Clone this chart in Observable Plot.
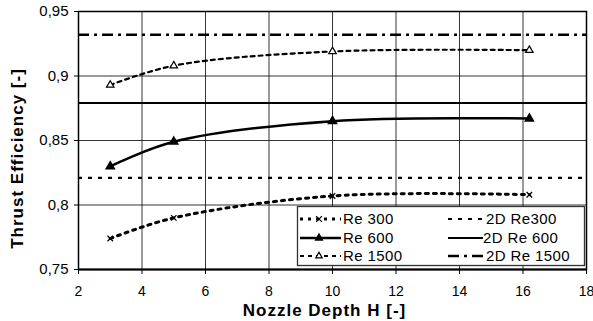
<!DOCTYPE html>
<html><head><meta charset="utf-8">
<script src="https://cdn.jsdelivr.net/npm/d3@7"></script>
<script src="https://cdn.jsdelivr.net/npm/@observablehq/plot@0.6"></script>
<style>
body{margin:0;background:#fff;}
#chart{width:593px;height:321px;}
</style></head>
<body><div id="chart"></div>
<script>
const depths = [3, 5, 10, 16.2];
const re300 = [0.774, 0.790, 0.807, 0.808];
const re600 = [0.830, 0.849, 0.865, 0.867];
const re1500 = [0.893, 0.908, 0.919, 0.920];
const ref2DNames = ["2D Re300", "2D Re 600", "2D Re 1500"];
const ref2DValues = [0.821, 0.879, 0.932];
const seriesNames = ["Re 300", "Re 600", "Re 1500"];
const xTicks = [2, 4, 6, 8, 10, 12, 14, 16, 18];
const yTicks = [0.75, 0.8, 0.85, 0.9, 0.95];
const xTitle = "Nozzle Depth H [-]";
const yTitle = "Thrust Efficiency [-]";

const mk = vals => depths.map((d, i) => ({x: d, y: vals[i]}));
const d300 = mk(re300), d600 = mk(re600), d1500 = mk(re1500);
const refs = ref2DNames.map((n, i) => ({name: n, value: ref2DValues[i]}));

const styles = {
  "Re 300": {dash: "3,5", w: 3},
  "Re 600": {dash: null, w: 2.5},
  "Re 1500": {dash: "4,4", w: 2.2},
  "2D Re300": {dash: "4,6", w: 2.2},
  "2D Re 600": {dash: null, w: 2},
  "2D Re 1500": {dash: "11,5,3,5", w: 2.5}
};

const fmt = d => String(d).replace(".", ",");

const chart = Plot.plot({
  width: 593, height: 321,
  marginLeft: 78, marginRight: 7, marginTop: 11, marginBottom: 52,
  style: {fontFamily: "Liberation Sans, Arial, sans-serif", fontSize: "15px", color: "black", background: "white"},
  x: {domain: [2, 18], ticks: xTicks},
  y: {domain: [0.75, 0.95], ticks: yTicks},
  marks: [
    Plot.gridX(xTicks, {stroke: "#111", strokeOpacity: 0.85, strokeWidth: 1}),
    Plot.gridY(yTicks, {stroke: "#111", strokeOpacity: 0.85, strokeWidth: 1}),
    Plot.ruleY(refs.filter(r => r.name === "2D Re300"), {y: "value", stroke: "black", strokeWidth: styles["2D Re300"].w, strokeDasharray: styles["2D Re300"].dash}),
    Plot.ruleY(refs.filter(r => r.name === "2D Re 600"), {y: "value", stroke: "black", strokeWidth: styles["2D Re 600"].w}),
    Plot.ruleY(refs.filter(r => r.name === "2D Re 1500"), {y: "value", stroke: "black", strokeWidth: styles["2D Re 1500"].w, strokeDasharray: styles["2D Re 1500"].dash}),
    Plot.line(d300, {x: "x", y: "y", curve: "catmull-rom", stroke: "black", strokeWidth: styles["Re 300"].w, strokeDasharray: styles["Re 300"].dash}),
    Plot.line(d600, {x: "x", y: "y", curve: "catmull-rom", stroke: "black", strokeWidth: styles["Re 600"].w}),
    Plot.line(d1500, {x: "x", y: "y", curve: "catmull-rom", stroke: "black", strokeWidth: styles["Re 1500"].w, strokeDasharray: styles["Re 1500"].dash}),
    Plot.dot(d300, {x: "x", y: "y", symbol: "times", r: 2.6, stroke: "black", strokeWidth: 1.3, fill: "none"}),
    Plot.dot(d600, {x: "x", y: "y", symbol: "triangle", r: 3, fill: "black", stroke: "black"}),
    Plot.dot(d1500, {x: "x", y: "y", symbol: "triangle", r: 2.8, fill: "white", stroke: "black", strokeWidth: 1.2}),
    Plot.frame({stroke: "black", strokeWidth: 1.5}),
    Plot.ruleY([0.75], {stroke: "black", strokeWidth: 2.2}),
    Plot.axisX({ticks: xTicks, tickSize: 5, tickPadding: 12, label: null, tickFormat: fmt, fontSize: 14}),
    Plot.axisY({ticks: yTicks, tickSize: 4, tickPadding: 6, label: null, tickFormat: fmt, fontSize: 15}),
    Plot.text([xTitle], {frameAnchor: "bottom", dx: -8, dy: 41, text: d => d, fontWeight: "bold", fontSize: 17, textAnchor: "middle", lineAnchor: "middle"}),
    Plot.text([yTitle], {frameAnchor: "left", dx: -61, dy: 18, rotate: -90, text: d => d, fontWeight: "bold", fontSize: 17, textAnchor: "middle", lineAnchor: "middle"})
  ]
});
d3.select(chart).selectAll("text").filter(function(){ return this.getAttribute("font-weight") === "bold" || d3.select(this.parentNode).attr("font-weight") === "bold"; }).style("letter-spacing", "1px");
document.getElementById("chart").appendChild(chart);

// legend drawn inside the plot area
const svg = d3.select(chart);
const lg = svg.append("g").attr("font-family", "Liberation Sans, Arial, sans-serif").attr("font-size", 15).attr("text-anchor", "start");
lg.append("rect").attr("x", 297.5).attr("y", 206.5).attr("width", 287).attr("height", 59)
  .attr("fill", "white").attr("stroke", "#333").attr("stroke-width", 1.3);
const rowY = [219, 238, 256];
const markers = [
  {type: d3.symbolTimes, fill: "none", stroke: "black", size: 24},
  {type: d3.symbolTriangle, fill: "black", stroke: "black", size: 22},
  {type: d3.symbolTriangle, fill: "white", stroke: "black", size: 18}
];
seriesNames.forEach((n, i) => {
  const s = styles[n];
  lg.append("line").attr("x1", 300).attr("x2", 341).attr("y1", rowY[i]).attr("y2", rowY[i])
    .attr("stroke", "black").attr("stroke-width", s.w).attr("stroke-dasharray", s.dash);
  lg.append("path").attr("d", d3.symbol(markers[i].type, markers[i].size)())
    .attr("transform", `translate(319,${rowY[i]})`).attr("fill", markers[i].fill).attr("stroke", markers[i].stroke).attr("stroke-width", 1.2);
  lg.append("text").attr("x", 343).attr("y", rowY[i]).attr("dy", "0.36em").attr("text-anchor", "start").style("letter-spacing", "0.4px").text(n);
});
ref2DNames.forEach((n, i) => {
  const s = styles[n];
  lg.append("line").attr("x1", 448).attr("x2", 483).attr("y1", rowY[i]).attr("y2", rowY[i])
    .attr("stroke", "black").attr("stroke-width", s.w).attr("stroke-dasharray", s.dash);
  lg.append("text").attr("x", i === 1 ? 483 : 486).attr("y", rowY[i]).attr("dy", "0.36em").attr("text-anchor", "start").style("letter-spacing", "0.4px").text(n);
});
</script></body></html>
